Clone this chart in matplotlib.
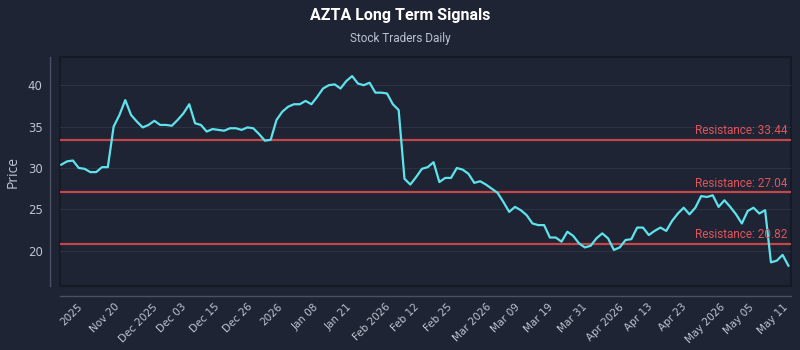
import matplotlib.pyplot as plt
import numpy as np

# --- Data ---
prices = [
    30.4, 30.8, 30.9, 30.0, 29.9, 29.5, 29.5, 30.1, 30.1, 35.0, 36.4, 38.2, 36.4, 35.6, 34.9,
    35.2, 35.7, 35.2, 35.2, 35.1, 35.8,
    36.6, 37.7, 35.4, 35.2, 34.4, 34.7, 34.6, 34.5, 34.8, 34.8, 34.6, 34.9, 34.8, 34.1, 33.3,
    33.4, 35.8, 36.8, 37.4, 37.7, 37.7,
    38.1, 37.7, 38.6, 39.6, 40.0, 40.1, 39.6, 40.5, 41.1, 40.2, 40.0, 40.3, 39.1, 39.1, 39.0,
    37.7, 37.0, 28.7, 28.0, 28.9, 29.9, 30.1,
    30.7, 28.3, 28.8, 28.8, 30.0, 29.8, 29.3, 28.2, 28.4, 28.0, 27.5, 27.0, 25.9, 24.7, 25.3,
    24.9, 24.3,
    23.3, 23.1, 23.1, 21.6, 21.6, 21.1, 22.3, 21.8, 20.9, 20.4, 20.6, 21.5, 22.1, 21.5, 20.1,
    20.4, 21.3, 21.4, 22.8, 22.8, 21.9, 22.4, 22.8,
    22.4, 23.6, 24.5, 25.2, 24.4, 25.2, 26.6, 26.5, 26.7, 25.3, 26.1, 25.3, 24.4, 23.3, 24.8,
    25.2, 24.5, 24.9, 18.6, 18.8, 19.5, 18.2,
]
resistance_levels = [33.44, 27.04, 20.82]
tick_labels = [
    "2025", "Nov 20", "Dec 2025", "Dec 03", "Dec 15", "Dec 26", "2026", "Jan 08", "Jan 21",
    "Feb 2026", "Feb 12", "Feb 25", "Mar 2026", "Mar 09", "Mar 19", "Mar 31", "Apr 2026",
    "Apr 13", "Apr 23", "May 2026", "May 05", "May 11",
]
y_ticks = [20, 25, 30, 35, 40]

# --- Style ---
BG = "#1e2433"
FRAME = "#151a25"
GRID = "#2a3243"
SPINE = "#4a5162"
TEXT = "#bcc3d0"
CYAN = "#5ee3ec"
RED = "#c4454a"
RED_TEXT = "#e0545a"
HEAD_FONT = ["Roboto", "DejaVu Sans"]
TICK_FONT = ["Open Sans", "DejaVu Sans"]

fig = plt.figure(figsize=(8, 3.5), dpi=100, facecolor=BG)
ax = fig.add_axes([0.075, 0.183, 0.9134, 0.654])
ax.set_facecolor(BG)
ax.patch.set_edgecolor(FRAME)
ax.patch.set_linewidth(1.5)

x = np.arange(len(prices))
ax.plot(x, prices, color=CYAN, linewidth=1.6, zorder=3)

for level in resistance_levels:
    ax.axhline(level, color=RED, linewidth=1.6, zorder=2)
    ax.annotate(
        f"Resistance: {level:.2f}",
        xy=(0.995, level),
        xycoords=("axes fraction", "data"),
        xytext=(0, 2),
        textcoords="offset points",
        ha="right",
        va="bottom",
        color=RED_TEXT,
        fontsize=8.5,
        family=HEAD_FONT,
        zorder=4,
    )

ax.set_xlim(-0.22, len(prices) - 1 + 0.4)
ax.set_ylim(15.75, 43.4)

tick_pos = np.linspace(1.7, 122.3, len(tick_labels))
ax.set_xticks(tick_pos, tick_labels)
ax.set_yticks(y_ticks)

ax.tick_params(axis="both", length=0, colors=TEXT)
ax.tick_params(axis="x", pad=4, labelrotation=45, labelsize=7.5)
ax.tick_params(axis="y", pad=5, labelsize=8.5)
for lbl in ax.get_xticklabels():
    lbl.set_horizontalalignment("right")
    lbl.set_verticalalignment("center")
    lbl.set_rotation_mode("anchor")
    lbl.set_fontfamily(TICK_FONT)
for lbl in ax.get_yticklabels():
    lbl.set_fontfamily(TICK_FONT)

ax.grid(True, axis="y", color=GRID, linewidth=0.8)
ax.set_axisbelow(True)

for side in ["top", "right"]:
    ax.spines[side].set_visible(False)
for side in ["left", "bottom"]:
    ax.spines[side].set_position(("outward", 7.5))
    ax.spines[side].set_color(SPINE)
    ax.spines[side].set_linewidth(1.0)

ax.set_ylabel("Price", color=TEXT, fontsize=10, labelpad=5, family=TICK_FONT)

fig.text(0.5, 0.957, "AZTA Long Term Signals", ha="center", va="center", color="white",
         fontsize=11.5, fontweight="bold", family=HEAD_FONT)
fig.text(0.5, 0.891, "Stock Traders Daily", ha="center", va="center", color=TEXT,
         fontsize=8.5, family=HEAD_FONT)

fig.savefig("out.png", dpi=100, facecolor=BG)
